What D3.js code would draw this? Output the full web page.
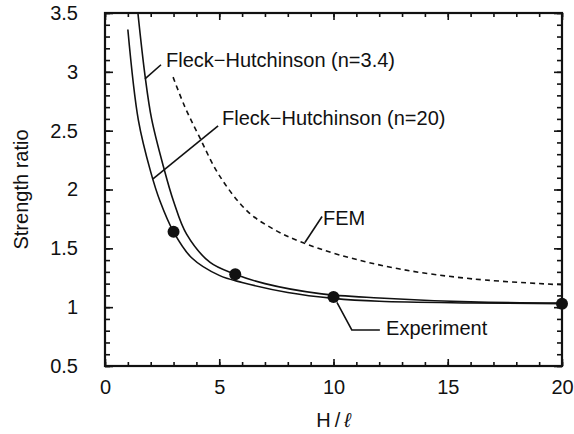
<!DOCTYPE html>
<html>
<head>
<meta charset="utf-8">
<script src="https://cdn.jsdelivr.net/npm/d3@7"></script>
<style>
  body { margin: 0; background: #fff; }
  svg text { font-family: "Liberation Sans", Arial, Helvetica, sans-serif; fill: #111; }
</style>
</head>
<body>
<svg width="574" height="434"></svg>
<script>
// values
var fh34X = [1.44, 1.75, 2.04, 2.55, 3.0, 3.57, 4.6, 5.7, 7.0, 9.4, 12.0, 16.0, 20.0];
var fh34Y = [3.5, 2.97, 2.6, 2.2, 1.9, 1.62, 1.38, 1.28, 1.2, 1.115, 1.078, 1.045, 1.035];

var fh20X = [1.0, 1.46, 2.0, 2.41, 3.0, 3.79, 5.0, 6.0, 8.0, 10.0, 12.0, 16.0, 20.0];
var fh20Y = [3.36, 2.59, 2.15, 1.9, 1.64, 1.42, 1.27, 1.21, 1.125, 1.075, 1.05, 1.036, 1.03];

var femX = [2.98, 3.5, 4.1, 5.0, 6.26, 7.44, 8.5, 10.28, 12.9, 16.1, 20.0];
var femY = [2.955, 2.7, 2.46, 2.12, 1.81, 1.656, 1.56, 1.443, 1.324, 1.24, 1.19];

var expX = [3.0, 5.7, 10.0, 20.0];
var expY = [1.64, 1.28, 1.086, 1.03];

var xTicks = [0, 5, 10, 15, 20];
var yTicks = [0.5, 1, 1.5, 2, 2.5, 3, 3.5];

var svg = d3.select("svg"),
  margin = { top: 13, right: 12, bottom: 68, left: 105 },
  width = svg.attr("width") - margin.left - margin.right,
  height = svg.attr("height") - margin.top - margin.bottom;

var xScale = d3.scaleLinear().domain([0, 20]).range([0, width]),
  yScale = d3.scaleLinear().domain([0.5, 3.5]).range([height, 0]);

var g = svg.append("g").attr("transform", "translate(" + margin.left + "," + margin.top + ")");

svg.append("defs").append("clipPath").attr("id", "plot")
  .append("rect").attr("width", width).attr("height", height);

var xMinor = d3.range(0, 20.01, 1),
  yMinor = d3.range(0.5, 3.501, 0.1);

function tickAxis(axis, vals, size, fmt) {
  return axis.tickValues(vals).tickSize(size).tickSizeOuter(0).tickPadding(size < 0 ? 19 - size : 14).tickFormat(fmt);
}

// ticks on all four sides, pointing inward
g.append("g").attr("transform", "translate(0," + height + ")")
  .call(tickAxis(d3.axisBottom(xScale), xMinor, -4, ""));
g.append("g").attr("transform", "translate(0," + height + ")")
  .call(tickAxis(d3.axisBottom(xScale), xTicks, -7, d3.format("d")));
g.append("g").call(tickAxis(d3.axisTop(xScale), xMinor, -4, ""));
g.append("g").call(tickAxis(d3.axisTop(xScale), xTicks, -7, ""));

g.append("g").call(tickAxis(d3.axisLeft(yScale), yMinor, -5, ""));
g.append("g").call(tickAxis(d3.axisLeft(yScale), yTicks, -8, d3.format("")));
g.append("g").attr("transform", "translate(" + width + ",0)")
  .call(tickAxis(d3.axisRight(yScale), yMinor, -5, ""));
g.append("g").attr("transform", "translate(" + width + ",0)")
  .call(tickAxis(d3.axisRight(yScale), yTicks, -8, ""));

g.selectAll(".domain").remove();
g.selectAll(".tick line").attr("stroke", "#111").attr("stroke-width", 1.6);
g.selectAll(".tick text").attr("font-size", 20).attr("fill", "#111");
g.selectAll(".tick text").filter(function () { return this.parentNode.parentNode.getAttribute("text-anchor") === "middle"; })
  .attr("dy", "0.71em").attr("y", 14);

g.append("rect")
  .attr("width", width).attr("height", height)
  .attr("fill", "none").attr("stroke", "#111").attr("stroke-width", 2.2);

var line = d3.line()
  .x(function (d) { return xScale(d[0]); })
  .y(function (d) { return yScale(d[1]); })
  .curve(d3.curveCatmullRom.alpha(0.5));

var curves = g.append("g").attr("clip-path", "url(#plot)");

curves.append("path").datum(d3.zip(fh34X, fh34Y))
  .attr("d", line).attr("fill", "none").attr("stroke", "#111").attr("stroke-width", 1.6);
curves.append("path").datum(d3.zip(fh20X, fh20Y))
  .attr("d", line).attr("fill", "none").attr("stroke", "#111").attr("stroke-width", 1.6);
curves.append("path").datum(d3.zip(femX, femY))
  .attr("d", line).attr("fill", "none").attr("stroke", "#111").attr("stroke-width", 1.6)
  .attr("stroke-dasharray", "5,4");

g.selectAll(".pt")
  .data(d3.zip(expX, expY))
  .enter()
  .append("circle")
  .attr("class", "pt")
  .attr("cx", function (d) { return xScale(d[0]); })
  .attr("cy", function (d) { return yScale(d[1]); })
  .attr("r", 6)
  .attr("fill", "#111");

// labels with leader lines, positioned in data units
var labels = [
  { text: "Fleck\u2212Hutchinson (n=3.4)", pts: [[1.75, 2.94], [2.45, 3.06]], at: [2.67, 3.04] },
  { text: "Fleck\u2212Hutchinson (n=20)", pts: [[2.1, 2.09], [4.95, 2.54]], at: [5.12, 2.55] },
  { text: "FEM", pts: [[8.75, 1.55], [9.5, 1.77]], at: [9.54, 1.7] },
  { text: "Experiment", pts: [[10.15, 1.04], [10.8, 0.806], [12.03, 0.806]], at: [12.3, 0.763] }
];

labels.forEach(function (l) {
  g.append("path")
    .attr("d", d3.line().x(function (d) { return xScale(d[0]); }).y(function (d) { return yScale(d[1]); })(l.pts))
    .attr("fill", "none").attr("stroke", "#111").attr("stroke-width", 1.6);
  g.append("text")
    .attr("x", xScale(l.at[0])).attr("y", yScale(l.at[1]))
    .attr("font-size", 20)
    .text(l.text);
});

svg.append("text")
  .attr("transform", "translate(28," + (margin.top + height / 2) + ") rotate(-90)")
  .attr("text-anchor", "middle")
  .attr("font-size", 20)
  .text("Strength ratio");

var xt = svg.append("text")
  .attr("x", margin.left + width / 2).attr("y", 427)
  .attr("text-anchor", "middle")
  .attr("font-size", 20);
xt.append("tspan").text("H\u2009/\u2009");
xt.append("tspan").attr("font-style", "italic").text("\u2113");
</script>
</body>
</html>
